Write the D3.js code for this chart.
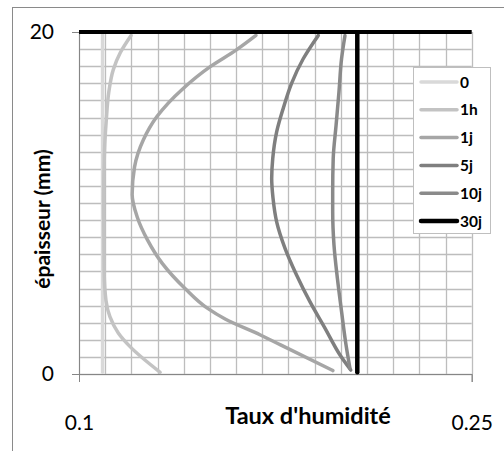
<!DOCTYPE html>
<html><head><meta charset="utf-8">
<script src="https://cdn.jsdelivr.net/npm/d3@7"></script>
<style>
html,body{margin:0;padding:0;background:#fff;}
svg{display:block;font-family:Lato,"Open Sans",sans-serif;}
</style></head>
<body>
<svg id="c" width="504" height="451"></svg>
<script>
// ---- data (épaisseur in mm, taux d'humidité) ----
const seriesNames = ["0", "1h", "1j", "5j", "10j", "30j"];
const seriesColors = ["#d9d9d9", "#c3c3c3", "#a6a6a6", "#7f7f7f", "#8a8a8a", "#000000"];
const s0 = [[0.109,0.1],[0.109,10],[0.109,19.9]];
const s1h = [[0.131,0.1],[0.1195,1.6],[0.115,2.4],[0.1118,3.35],[0.1103,4.3],[0.1096,6],[0.1094,10],[0.1097,12.9],[0.1104,14.8],[0.1114,16.5],[0.1131,17.8],[0.1158,18.8],[0.1199,19.8]];
const s1j = [[0.197,0.2],[0.177,1.7],[0.1693,2.28],[0.156,3.2],[0.1490,3.85],[0.1405,5.0],[0.1318,6.47],[0.1262,7.83],[0.1222,9.2],[0.1203,10.5],[0.1212,12.1],[0.1246,13.7],[0.1297,15.04],[0.1398,16.7],[0.150,17.96],[0.160,18.94],[0.1676,19.8]];
const s5j = [[0.2038,0.23],[0.1997,1.11],[0.194,2.67],[0.1882,4.23],[0.1831,5.79],[0.1787,7.35],[0.1755,8.9],[0.1741,10.3],[0.1736,11.43],[0.174,12.6],[0.1755,14.16],[0.178,15.53],[0.1812,17.0],[0.1857,18.45],[0.1914,19.8]];
const s10j = [[0.2035,0.33],[0.202,1.69],[0.2003,3.64],[0.1987,5.59],[0.1974,7.54],[0.1969,9.49],[0.1969,10.66],[0.1971,12.6],[0.1982,14.55],[0.1993,16.5],[0.2003,18.45],[0.2016,19.8]];
const s30j = [[0.2063,0.1],[0.2063,10],[0.2063,19.9]];
const surface = [[0.1,20],[0.25,20]];
const seriesData = [s0, s1h, s1j, s5j, s10j, s30j];
const seriesWidths = [3.5, 3.5, 3.5, 3.5, 3.5, 4.5];
const xTicks = [0.1, 0.25];
const yTicks = [0, 20];
const xTitle = "Taux d'humidité";
const yTitle = "épaisseur (mm)";

const svg = d3.select("#c");
const x = d3.scaleLinear().domain([0.1, 0.25]).range([79, 471.7]);
const y = d3.scaleLinear().domain([0, 20]).range([374, 32]);

// outer chart border
svg.append("rect").attr("x", 12.5).attr("y", 7.5).attr("width", 520).attr("height", 460)
  .attr("fill", "none").attr("stroke", "#8a8a8a").attr("stroke-width", 1);

// gridlines
const g = svg.append("g");
g.selectAll(".vg").data(d3.range(0, 16).map(i => 0.1 + i * 0.01)).join("line")
  .attr("x1", d => Math.round(x(d)) + 0.5).attr("x2", d => Math.round(x(d)) + 0.5)
  .attr("y1", y(20)).attr("y2", y(0)).attr("stroke", "#bdbdbd").attr("stroke-width", 1.3);
g.selectAll(".hg").data(d3.range(0, 21)).join("line")
  .attr("y1", d => Math.round(y(d)) + 0.5).attr("y2", d => Math.round(y(d)) + 0.5)
  .attr("x1", x(0.1)).attr("x2", x(0.25)).attr("stroke", "#bdbdbd").attr("stroke-width", 1.3);

// axes
const ax = svg.append("g").attr("transform", `translate(0,${y(0)})`)
  .call(d3.axisBottom(x).tickValues(xTicks).tickSize(8).tickPadding(33).tickFormat(d3.format("")));
const ay = svg.append("g").attr("transform", `translate(${x(0.1)},0)`)
  .call(d3.axisLeft(y).tickValues(yTicks).tickSize(7).tickPadding(18));
[ax, ay].forEach(a => {
  a.select(".domain").attr("stroke", "#868686");
  a.selectAll(".tick line").attr("stroke", "#868686");
  a.selectAll(".tick text").attr("font-family", "Lato, sans-serif").attr("font-size", 21).attr("fill", "#000");
});

// lines
const line = d3.line().x(d => x(d[0])).y(d => y(d[1])).curve(d3.curveMonotoneY);
svg.append("g").selectAll("path").data(seriesData).join("path")
  .attr("d", line).attr("fill", "none")
  .attr("stroke", (d, i) => seriesColors[i]).attr("stroke-width", (d, i) => seriesWidths[i])
  .attr("stroke-linecap", "round");
svg.append("path").datum(surface).attr("d", d3.line().x(d => x(d[0])).y(d => y(d[1])))
  .attr("stroke", "#000").attr("stroke-width", 4).attr("fill", "none");

// titles
svg.append("text").attr("x", 308).attr("y", 424).attr("text-anchor", "middle")
  .attr("font-weight", "bold").attr("font-size", 23.5).text(xTitle);
svg.append("text").attr("transform", "translate(50,219) rotate(-90)").attr("text-anchor", "middle")
  .attr("font-weight", "bold").attr("font-size", 21).text(yTitle);

// legend
const lg = svg.append("g");
lg.append("rect").attr("x", 413.5).attr("y", 67.5).attr("width", 77).attr("height", 166)
  .attr("fill", "#fff").attr("stroke", "#bfbfbf");
const ly = d3.scalePoint().domain(seriesNames).range([82, 221]);
const items = lg.selectAll("g").data(seriesNames).join("g")
  .attr("transform", d => `translate(0,${ly(d)})`);
items.append("line").attr("x1", 421).attr("x2", 457).attr("y1", 0).attr("y2", 0)
  .attr("stroke", (d, i) => seriesColors[i]).attr("stroke-width", (d, i) => seriesWidths[i])
  .attr("stroke-linecap", "round");
items.append("text").attr("x", 460).attr("y", 5.5).attr("font-weight", "bold")
  .attr("font-size", 15.5).text(d => d);
</script>
</body></html>
